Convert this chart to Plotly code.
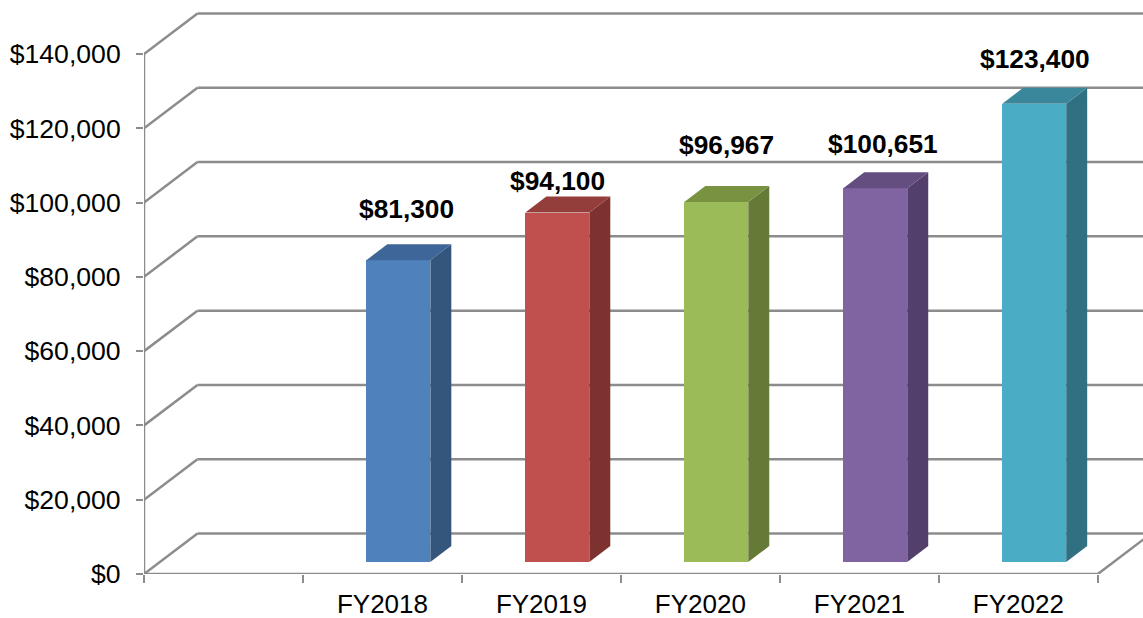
import plotly.graph_objects as go

categories = ["FY2018", "FY2019", "FY2020", "FY2021", "FY2022"]
values = [81300, 94100, 96967, 100651, 123400]
value_labels = ["$81,300", "$94,100", "$96,967", "$100,651", "$123,400"]
y_ticks = [0, 20000, 40000, 60000, 80000, 100000, 120000, 140000]
y_tick_labels = ["$0", "$20,000", "$40,000", "$60,000", "$80,000", "$100,000", "$120,000", "$140,000"]
front_colors = ["#4F81BD", "#C0504D", "#9BBB59", "#8064A2", "#4BACC6"]
side_colors = ["#34557C", "#7E3230", "#657A37", "#533F6C", "#317083"]
top_colors = ["#3E6698", "#943E3B", "#789242", "#644E7F", "#3A869B"]
label_dx = [8, 0, 10, 8, 1]
label_dy = [51, 32, 57, 44, 45]

W, H = 1143, 618
L, B = 143.5, 44
SLOT_PX = 159.05
PX_PER_UNIT = 520.0 / 140000
GRID = "#8C8C8C"
FONT = "Liberation Sans, Arial, sans-serif"
n_slots = len(categories) + 1
wall_dx, wall_dy = 53.5 / SLOT_PX, 40.5 / PX_PER_UNIT
bar_width = 64 / SLOT_PX
depth_dx, depth_dy = 21 / SLOT_PX, 16 / PX_PER_UNIT
floor_dx, floor_dy = 15.9 / SLOT_PX, 11.9 / PX_PER_UNIT
x_max = (W - L) / SLOT_PX
y_max = (H - B) / PX_PER_UNIT

centers = [i + 1.5 for i in range(len(categories))]
bar_x = [c + floor_dx for c in centers]

fig = go.Figure()
fig.add_bar(x=bar_x, y=values, base=floor_dy, width=bar_width,
            marker=dict(color=front_colors, line_width=0), showlegend=False, hoverinfo="skip")


def line(xs, ys):
    fig.add_scatter(x=xs, y=ys, mode="lines", line=dict(color=GRID, width=2.5),
                    cliponaxis=False, showlegend=False, hoverinfo="skip")


def poly(xs, ys, color):
    fig.add_scatter(x=xs, y=ys, mode="lines", fill="toself", fillcolor=color,
                    line=dict(width=0, color=color), showlegend=False, hoverinfo="skip")


for xc, v, sc, tc in zip(bar_x, values, side_colors, top_colors):
    xl, xr = xc - bar_width / 2, xc + bar_width / 2
    yb, yt = floor_dy, floor_dy + v
    poly([xr, xr + depth_dx, xr + depth_dx, xr, xr], [yb, yb + depth_dy, yt + depth_dy, yt, yb], sc)
    poly([xl, xr, xr + depth_dx, xl + depth_dx, xl], [yt, yt, yt + depth_dy, yt + depth_dy, yt], tc)

# front axes and wall diagonals
line([0, 0], [y_ticks[0], y_ticks[-1]])
line([0, n_slots], [0, 0])
line([n_slots, n_slots + wall_dx], [0, wall_dy])
for t in y_ticks:
    line([0, wall_dx], [t, t + wall_dy])

# back-wall lines sit under all marks
shapes = [dict(type="line", layer="below", xref="x", yref="y", x0=wall_dx, x1=x_max + 1,
               y0=t + wall_dy, y1=t + wall_dy, line=dict(color=GRID, width=2.5)) for t in y_ticks]

annotations = [dict(x=xc, y=floor_dy + v, xref="x", yref="y", text=f"<b>{lab}</b>", showarrow=False,
                    xshift=dx, yshift=dy, xanchor="center", yanchor="middle",
                    font=dict(family=FONT, size=26.3, color="#000000"))
               for xc, v, lab, dx, dy in zip(bar_x, values, value_labels, label_dx, label_dy)]

fig.update_layout(
    width=W, height=H, margin=dict(l=L, r=0, t=0, b=B, autoexpand=False),
    paper_bgcolor="white", plot_bgcolor="white", showlegend=False, bargap=0,
    font=dict(family=FONT, size=26.6, color="#000000"),
    shapes=shapes, annotations=annotations,
    xaxis=dict(range=[0, x_max], showgrid=False, zeroline=False, showline=False,
               tickmode="array", tickvals=centers, ticktext=categories,
               ticks="", ticklabelstandoff=12, tickfont=dict(family=FONT, size=26, color="#000000"),
               minor=dict(tickmode="array", tickvals=list(range(n_slots + 1)), ticks="outside",
                          ticklen=8, tickwidth=2, tickcolor=GRID, showgrid=False)),
    yaxis=dict(range=[0, y_max], showgrid=False, zeroline=False, showline=False,
               tickmode="array", tickvals=y_ticks, ticktext=y_tick_labels,
               ticks="outside", ticklen=7, tickwidth=2, tickcolor=GRID, ticklabelstandoff=10),
)

fig.write_html("out.html", config=dict(displayModeBar=False),
               post_script="document.body.style.margin='0';document.body.style.overflow='hidden';")
